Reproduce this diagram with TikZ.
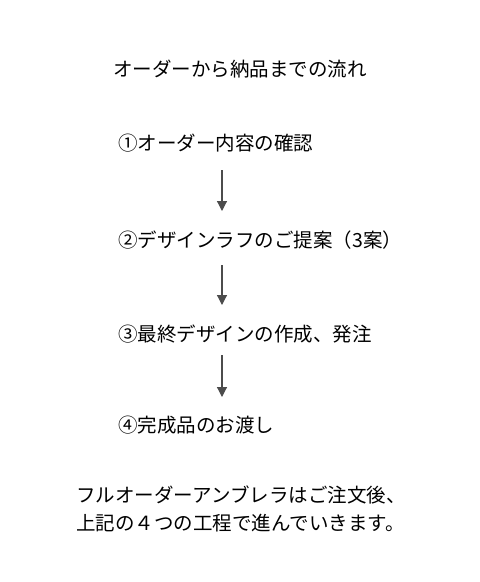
\documentclass[tikz,border=0pt]{standalone}
\usepackage{fontspec}
\setmainfont{Noto Sans CJK JP}
\usetikzlibrary{arrows.meta}
\begin{document}
\begin{tikzpicture}[x=1pt,y=-1pt,
  txt/.style={inner sep=0pt,font=\fontsize{19.5pt}{23pt}\selectfont,text=black},
  item/.style={txt,anchor=west},
  flow/.style={draw=black!70,line width=1.2pt,-{Triangle[width=10pt,length=10pt]}}]
\useasboundingbox[fill=white] (0,0) rectangle (480,582);
\node[txt] (title) at (240,69) {オーダーから納品までの流れ};
\node[item] (s1) at (118,143) {①オーダー内容の確認};
\node[item] (s2) at (118,240) {②デザインラフのご提案（3案）};
\node[item] (s3) at (118,334) {③最終デザインの作成、発注};
\node[item] (s4) at (118,425) {④完成品のお渡し};
\node[item] (b1) at (76,495) {フルオーダーアンブレラはご注文後、};
\node[item] (b2) at (76,523) {上記の４つの工程で進んでいきます。};
\coordinate (a1s) at (222,170); \coordinate (a1e) at (222,211);
\coordinate (a2s) at (222,265); \coordinate (a2e) at (222,305);
\coordinate (a3s) at (222,355); \coordinate (a3e) at (222,397);
\draw[flow] (a1s) -- (a1e);
\draw[flow] (a2s) -- (a2e);
\draw[flow] (a3s) -- (a3e);
\end{tikzpicture}
\end{document}
